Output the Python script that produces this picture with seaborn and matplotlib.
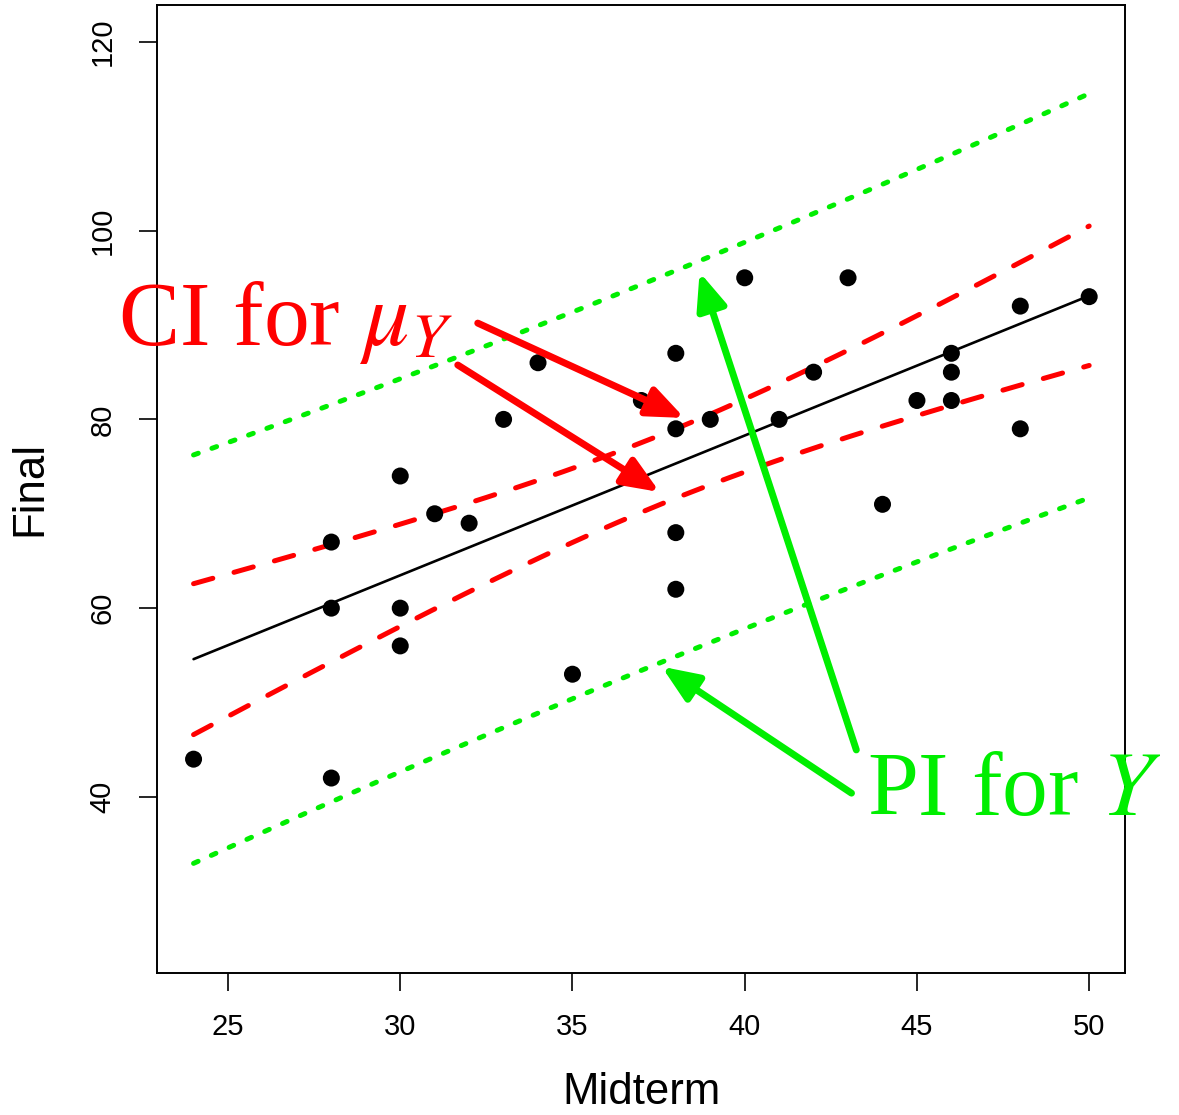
import numpy as np
import pandas as pd
import matplotlib
matplotlib.use("Agg")
import matplotlib.pyplot as plt
import seaborn as sns

# data
midterm = [24, 28, 28, 28, 30, 30, 30, 31, 32, 33, 34, 35, 37, 38, 38, 38, 38,
           39, 40, 41, 42, 43, 44, 45, 46, 46, 46, 48, 48, 50]
final = [44, 67, 60, 42, 74, 60, 56, 70, 69, 80, 86, 53, 82, 87, 79, 68, 62,
         80, 95, 80, 85, 95, 71, 82, 87, 85, 82, 92, 79, 93]
xticks = [25, 30, 35, 40, 45, 50]
yticks = [40, 60, 80, 100, 120]

red = "#ff0000"
green = "#00ee00"

sns.set_style("ticks", rc={"text.color": "black", "axes.labelcolor": "black",
                           "xtick.color": "black", "ytick.color": "black",
                           "axes.edgecolor": "black"})
plt.rcParams["font.family"] = ["Liberation Sans", "DejaVu Sans"]
plt.rcParams["mathtext.fontset"] = "stix"

df = pd.DataFrame({"Midterm": midterm, "Final": final})

# simple linear regression + confidence / prediction bands
x = np.array(midterm, float)
y = np.array(final, float)
n = len(x)
b1, b0 = np.polyfit(x, y, 1)
resid = y - (b0 + b1 * x)
s = np.sqrt(np.sum(resid ** 2) / (n - 2))
sxx = np.sum((x - x.mean()) ** 2)
t = 2.048  # t_{0.975, 28}
grid = np.linspace(x.min(), x.max(), 200)
fit = b0 + b1 * grid
se_mean = s * np.sqrt(1 / n + (grid - x.mean()) ** 2 / sxx)
se_pred = s * np.sqrt(1 + 1 / n + (grid - x.mean()) ** 2 / sxx)

fig = plt.figure(figsize=(11.79, 11.15), dpi=100)
ax = fig.add_axes([0.1332, 0.1274, 0.821, 0.8681])

sns.scatterplot(data=df, x="Midterm", y="Final", ax=ax, color="black",
                s=150, edgecolor="none", zorder=3)
sns.lineplot(x=grid, y=fit, ax=ax, color="black", lw=1.9)

for sign in (-1, 1):
    ax.plot(grid, fit + sign * t * se_mean, color=red, lw=3.6,
            linestyle=(0, (4.0, 4.4)), dash_capstyle="round")
    ax.plot(grid, fit + sign * t * se_pred, color=green, lw=3.6,
            linestyle=(0, (1.0, 2.9)), dash_capstyle="round")

ax.set_xlim(22.94, 51.04)
ax.set_ylim(21.35, 123.9)
ax.set_xticks(xticks)
ax.set_yticks(yticks)
ax.tick_params(axis="both", length=13, width=1.2, labelsize=21, pad=16)
for lab in ax.get_yticklabels():
    lab.set_rotation(90)
    lab.set_va("center")
for sp in ax.spines.values():
    sp.set_linewidth(1.4)
ax.set_xlabel("Midterm", fontsize=31.5, labelpad=22)
ax.set_ylabel("Final", fontsize=31.5, labelpad=28)

arrow = "-|>,head_length=0.85,head_width=0.35"
for start, end, col in [((32.25, 90.2), (38.25, 80.15), red),
                        ((31.67, 85.76), (37.53, 72.3), red),
                        ((43.24, 44.98), (38.69, 95.6), green),
                        ((43.1, 40.4), (37.59, 53.8), green)]:
    ax.annotate("", xy=end, xytext=start,
                arrowprops=dict(arrowstyle=arrow, lw=5, color=col,
                                mutation_scale=26, shrinkA=0, shrinkB=0))

ax.text(21.81, 87.9, r"CI for $\mu_Y$", color=red, fontsize=66,
        family="Liberation Serif", ha="left", va="baseline", clip_on=False)
ax.text(43.56, 38.1, r"PI for $Y$", color=green, fontsize=66,
        family="Liberation Serif", ha="left", va="baseline", clip_on=False)

fig.savefig("out.png", dpi=100)
